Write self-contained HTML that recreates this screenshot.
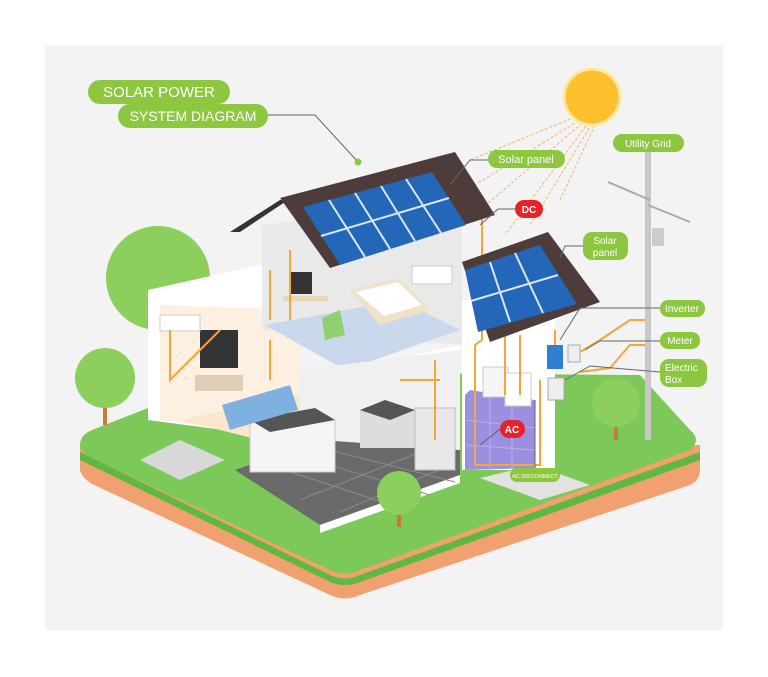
<!DOCTYPE html>
<html><head><meta charset="utf-8"><style>
body{margin:0;background:#fff}
svg{display:block}
text{font-family:"Liberation Sans",sans-serif}
</style></head><body>
<svg width="768" height="677" viewBox="0 0 768 677" xmlns="http://www.w3.org/2000/svg">
<rect x="45" y="45" width="678" height="585" fill="#f3f3f3"/>
<!-- sun rays -->
<g stroke="#f4b26a" stroke-width="1" stroke-dasharray="3,2" fill="none">
<line x1="580" y1="115" x2="470" y2="160"/><line x1="583" y1="118" x2="475" y2="185"/>
<line x1="586" y1="120" x2="480" y2="210"/><line x1="589" y1="122" x2="505" y2="235"/>
<line x1="592" y1="124" x2="530" y2="225"/><line x1="595" y1="125" x2="560" y2="200"/>
</g>
<circle cx="592" cy="97" r="28" fill="#fdc12f" stroke="#fde8a0" stroke-width="3"/>
<!-- trees back -->
<circle cx="158" cy="278" r="52" fill="#8ccf5c"/>
<!-- ground soil -->
<path d="M80,445 L80,470 Q82,478 92,484 L330,595 Q345,602 360,595 L690,485 Q700,480 700,470 L700,445 Z" fill="#f1a070"/>
<!-- ground green top -->
<path d="M80,445 Q80,435 92,430 L240,372 L640,375 L690,430 Q702,440 690,450 L360,570 Q345,577 330,570 L92,458 Q80,452 80,445 Z" fill="#7cc95a"/>
<path d="M80,452 L330,575 Q345,582 360,575 L700,452 L700,460 L360,582 Q345,588 330,582 L80,460 Z" fill="#5fb840"/>
<!-- paving -->
<polygon points="480,478 535,465 590,485 540,500" fill="#e2e2e2"/>
<polygon points="140,460 180,440 225,460 180,480" fill="#d8d8d8"/>
<!-- house left lower room -->
<polygon points="148,290 260,265 300,300 300,440 148,420" fill="#fff"/>
<polygon points="160,305 300,310 300,440 160,420" fill="#fdf0e0"/>
<polygon points="180,420 260,440 400,420 300,395" fill="#fbe8cc"/>
<!-- upper floor -->
<polygon points="262,225 462,200 462,345 262,330" fill="#e9e9e9"/>
<polygon points="265,325 400,300 460,330 345,370" fill="#c9d8ec"/>
<polygon points="345,370 460,345 460,355 345,378" fill="#fff"/>
<!-- lower middle -->
<polygon points="300,370 460,350 460,470 300,460" fill="#f0f0f0"/>
<polygon points="235,470 320,440 460,450 460,475 320,525" fill="#6a6a6a"/>
<polygon points="320,525 460,475 460,483 320,533" fill="#fff"/>
<g stroke="#8a8a8a" stroke-width="1"><line x1="260" y1="462" x2="400" y2="508"/><line x1="285" y1="452" x2="430" y2="495"/><line x1="310" y1="445" x2="455" y2="482"/><line x1="300" y1="500" x2="420" y2="452"/><line x1="340" y1="512" x2="450" y2="465"/></g>
<!-- kitchen -->
<rect x="250" y="420" width="85" height="52" fill="#f5f5f5" stroke="#ccc"/>
<polygon points="250,420 315,408 335,420 270,432" fill="#555"/>
<rect x="360" y="410" width="55" height="38" fill="#ddd"/>
<polygon points="360,410 385,400 415,410 390,420" fill="#555"/>
<rect x="415" y="408" width="40" height="62" fill="#e8e8e8" stroke="#bbb"/>
<!-- sofa, tv -->
<polygon points="222,405 290,385 298,410 230,430" fill="#7eb1e0"/>
<rect x="200" y="330" width="38" height="38" fill="#333"/>
<rect x="195" y="375" width="48" height="16" fill="#e0cfb8"/>
<rect x="160" y="315" width="40" height="16" fill="#fff" stroke="#ccc"/>
<!-- bedroom -->
<polygon points="350,290 400,278 430,310 380,325" fill="#f0e1c8"/>
<polygon points="356,292 398,282 422,305 384,316" fill="#fff"/>
<rect x="290" y="272" width="22" height="22" fill="#333"/>
<rect x="283" y="296" width="45" height="5" fill="#e8d6b6"/>
<polygon points="322,318 340,310 345,335 325,340" fill="#8fd070"/>
<rect x="412" y="266" width="40" height="18" fill="#fff" stroke="#ccc"/>
<!-- right wing -->
<polygon points="462,300 555,300 555,470 462,470" fill="#fff"/>
<polygon points="465,395 470,390 535,400 535,468 465,470" fill="#9b8fdf"/>
<g stroke="#b8afe9" stroke-width="1"><line x1="465" y1="420" x2="535" y2="428"/><line x1="465" y1="445" x2="535" y2="450"/><line x1="490" y1="395" x2="490" y2="470"/><line x1="512" y1="398" x2="512" y2="470"/></g>
<rect x="483" y="367" width="25" height="30" fill="#f5f5f5" stroke="#ccc"/>
<rect x="505" y="373" width="26" height="33" fill="#fff" stroke="#ccc"/>
<!-- inverter, meter, box -->
<rect x="547" y="345" width="16" height="24" fill="#2f7fd0"/>
<rect x="568" y="345" width="12" height="17" fill="#eee" stroke="#aaa"/>
<rect x="548" y="378" width="16" height="22" fill="#eee" stroke="#aaa"/>
<!-- wires -->
<g stroke="#f5a53a" stroke-width="2" fill="none">
<path d="M465,205 L482,220 L482,340 L475,345 L475,465 L540,465 L540,380"/>
<path d="M555,330 L555,345"/><path d="M580,352 L600,340 L630,320 L648,320"/>
<path d="M580,372 L610,368 L630,345 L648,345"/>
<path d="M290,250 L290,320"/><path d="M270,270 L270,320"/><path d="M435,360 L435,440"/>
<path d="M170,330 L170,380 L220,330"/><path d="M270,340 L270,380"/><path d="M400,380 L440,380"/>
<path d="M505,335 L505,395"/><path d="M520,335 L520,395"/>
</g>
<!-- main roof -->
<polygon points="230,232 280,200 288,200 240,232" fill="#333"/>
<polygon points="280,198 455,152 495,215 330,268" fill="#4d3c39"/>
<polygon points="303,207 432,172 466,225 340,265" fill="#2466b8"/>
<g stroke="#dbe6f3" stroke-width="2">
<line x1="329" y1="200" x2="365" y2="257"/><line x1="355" y1="193" x2="390" y2="249"/><line x1="381" y1="186" x2="415" y2="241"/><line x1="406" y1="179" x2="441" y2="233"/>
<line x1="321" y1="236" x2="449" y2="198"/>
</g>
<!-- second roof -->
<polygon points="462,262 548,232 600,302 490,342" fill="#4d3c39"/>
<polygon points="465,270 540,245 577,304 478,332" fill="#2466b8"/>
<g stroke="#dbe6f3" stroke-width="2">
<line x1="490" y1="262" x2="510" y2="322"/><line x1="515" y1="253" x2="543" y2="313"/>
<line x1="471" y1="301" x2="558" y2="275"/>
</g>
<!-- pole -->
<rect x="645" y="148" width="6" height="292" fill="#c8c8c8"/>
<line x1="608" y1="182" x2="650" y2="200" stroke="#aaa" stroke-width="2"/>
<line x1="648" y1="205" x2="690" y2="222" stroke="#aaa" stroke-width="2"/>
<rect x="652" y="228" width="12" height="18" fill="#ccc"/>
<!-- front trees -->
<rect x="103" y="385" width="4" height="40" fill="#c97a3a"/><circle cx="105" cy="378" r="30" fill="#8ccf5c"/>
<rect x="614" y="410" width="4" height="30" fill="#c97a3a"/><circle cx="616" cy="403" r="24" fill="#8ccf5c"/>
<rect x="397" y="505" width="4" height="22" fill="#c97a3a"/><circle cx="399" cy="493" r="22" fill="#8ccf5c"/>
<!-- leader lines -->
<g stroke="#666" stroke-width="1" fill="none">
<path d="M268,115 L315,115 L358,162"/><path d="M488,160 L470,160 L450,185"/>
<path d="M515,209 L498,209 L480,225"/><path d="M583,246 L565,246 L560,258"/>
<path d="M660,308 L580,308 L560,340"/><path d="M660,341 L600,341 L585,350"/>
<path d="M660,372 L590,366 L565,380"/><path d="M535,470 L535,400"/>
<path d="M500,429 L480,445"/>
</g>
<circle cx="358" cy="162" r="3.5" fill="#8dc63f"/>
<!-- labels -->
<g fill="#8dc63f">
<rect x="88" y="80" width="142" height="24" rx="12"/><rect x="118" y="104" width="150" height="24" rx="12"/>
<rect x="488" y="150" width="77" height="18" rx="9"/><rect x="583" y="232" width="45" height="28" rx="9"/>
<rect x="613" y="134" width="71" height="18" rx="9"/><rect x="660" y="300" width="45" height="17" rx="8"/>
<rect x="660" y="332" width="40" height="17" rx="8"/><rect x="660" y="359" width="47" height="28" rx="9"/>
<rect x="510" y="468" width="50" height="14" rx="7"/>
</g>
<rect x="515" y="200" width="28" height="18" rx="9" fill="#e8222a"/>
<rect x="500" y="420" width="25" height="18" rx="9" fill="#e8222a"/>
<g fill="#fff" font-size="11">
<text x="159" y="97" font-size="15" text-anchor="middle">SOLAR POWER</text>
<text x="193" y="121" font-size="14" text-anchor="middle">SYSTEM DIAGRAM</text>
<text x="526" y="163" text-anchor="middle">Solar panel</text>
<text x="605" y="244" text-anchor="middle" font-size="10">Solar</text>
<text x="605" y="256" text-anchor="middle" font-size="10">panel</text>
<text x="648" y="147" text-anchor="middle" font-size="10">Utility Grid</text>
<text x="682" y="312" text-anchor="middle" font-size="10">Inverter</text>
<text x="680" y="344" text-anchor="middle" font-size="10">Meter</text>
<text x="665" y="371" font-size="10">Electric</text>
<text x="665" y="383" font-size="10">Box</text>
<text x="529" y="213" text-anchor="middle" font-size="10" font-weight="bold">DC</text>
<text x="512" y="433" text-anchor="middle" font-size="10" font-weight="bold">AC</text>
<text x="535" y="478" text-anchor="middle" font-size="5.5">AC DISCONNECT</text>
</g>
</svg>
</body></html>
